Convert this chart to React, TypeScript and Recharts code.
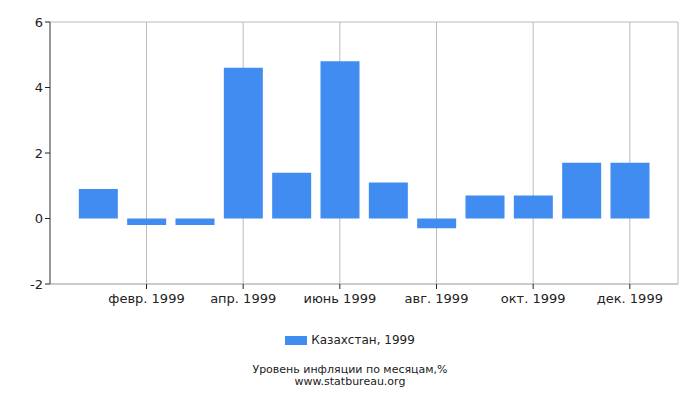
import React from 'react';
import { BarChart, Bar, XAxis, YAxis, CartesianGrid, Legend } from 'recharts';

const months = [
  'янв. 1999', 'февр. 1999', 'март 1999', 'апр. 1999', 'май 1999', 'июнь 1999',
  'июль 1999', 'авг. 1999', 'сент. 1999', 'окт. 1999', 'нояб. 1999', 'дек. 1999',
];
const values = [0.9, -0.2, -0.2, 4.6, 1.4, 4.8, 1.1, -0.3, 0.7, 0.7, 1.7, 1.7];
const xTicks = ['февр. 1999', 'апр. 1999', 'июнь 1999', 'авг. 1999', 'окт. 1999', 'дек. 1999'];
const yTicks = [-2, 0, 2, 4, 6];
const seriesName = 'Казахстан, 1999';
const titleLines = ['Уровень инфляции по месяцам,%', 'www.statbureau.org'];

const data = months.map((m, i) => ({ month: m, value: values[i] }));

const FONT = '"DejaVu Sans", sans-serif';
const BLUE = '#418cf0';
const GRID = '#bbbbbb';

const LegendContent = (props: any) => {
  const { payload } = props;
  return (
    <div style={{ display: 'flex', justifyContent: 'center', fontFamily: FONT, fontSize: 12, color: '#222' }}>
      {(payload || []).map((p: any) => (
        <div key={p.value} style={{ display: 'flex', alignItems: 'center' }}>
          <span style={{ display: 'inline-block', width: 22, height: 9, background: BLUE, marginRight: 4 }} />
          <span>{p.value}</span>
        </div>
      ))}
    </div>
  );
};

export default function App() {
  return (
    <div style={{ position: 'absolute', left: 0, top: 0, width: 700, height: 400, background: '#fff' }}>
      <BarChart
        width={700}
        height={400}
        data={data}
        margin={{ top: 22, right: 22, bottom: 86, left: 0 }}
        barCategoryGap="10%"
      >
        <CartesianGrid stroke={GRID} strokeWidth={1} />
        <XAxis
          dataKey="month"
          ticks={xTicks}
          interval={0}
          padding={{ left: 24, right: 24 }}
          height={30}
          axisLine={{ stroke: GRID }}
          tickLine={{ stroke: '#222' }}
          tickSize={5}
          tick={{ fill: '#222', fontSize: 13, fontFamily: FONT, dy: 3 }}
        />
        <YAxis
          yAxisId="left"
          domain={[-2, 6]}
          ticks={yTicks}
          width={50}
          axisLine={{ stroke: '#555' }}
          tickLine={{ stroke: '#222' }}
          tickSize={5}
          tick={{ fill: '#222', fontSize: 13, fontFamily: FONT }}
        />
        <YAxis
          yAxisId="right"
          orientation="right"
          width={0}
          tick={false}
          tickLine={false}
          axisLine={{ stroke: GRID }}
        />
        <Legend
          verticalAlign="middle"
          align="center"
          layout="horizontal"
          content={<LegendContent />}
          wrapperStyle={{ position: 'absolute', top: 333, left: 0, width: 700 }}
        />
        <Bar yAxisId="left" dataKey="value" name={seriesName} fill={BLUE} isAnimationActive={false} />
      </BarChart>
      <div
        style={{
          position: 'absolute',
          top: 364,
          left: 0,
          width: 700,
          textAlign: 'center',
          fontFamily: FONT,
          fontSize: 11,
          lineHeight: '12px',
          color: '#222',
        }}
      >
        {titleLines.map((t) => (
          <div key={t}>{t}</div>
        ))}
      </div>
    </div>
  );
}
